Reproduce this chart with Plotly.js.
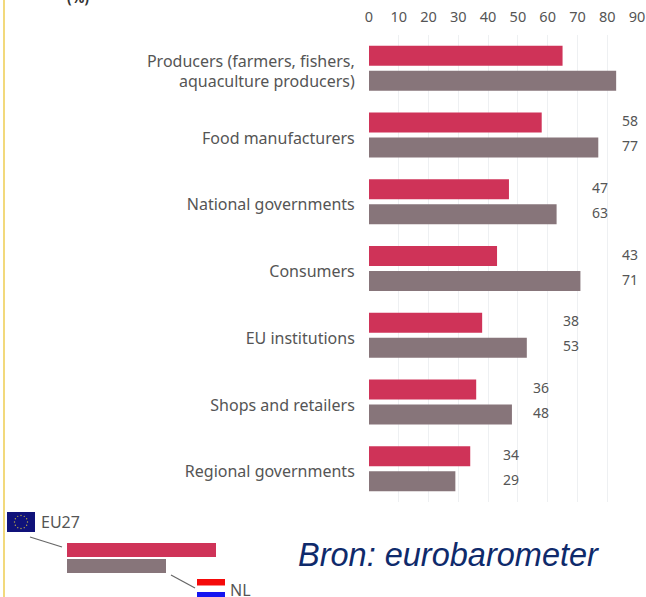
<!DOCTYPE html>
<html><head><meta charset="utf-8">
<script src="https://cdn.plot.ly/plotly-3.0.1.min.js"></script>
<style>html,body{margin:0;padding:0;background:#fff;overflow:hidden}</style>
</head><body><div id="chart" style="width:646px;height:597px"></div>
<script>
const categories = ["Producers (farmers, fishers,<br>aquaculture producers)","Food manufacturers","National governments","Consumers","EU institutions","Shops and retailers","Regional governments"];
const eu27 = [65,58,47,43,38,36,34];
const nl = [83,77,63,71,53,48,29];
const xTicks = [0,10,20,30,40,50,60,70,80,90];
const W=646,H=597;
const M={l:369,r:9,t:35,b:95};
const PW=W-M.l-M.r, PH=H-M.t-M.b;
const FONT='"Noto Sans", sans-serif';
const TXT='#555';
const RED='#cf3358', GREY='#87757a';
const px=v=>(v-M.l)/PW, py=v=>1-(v-M.t)/PH;
const rect=(x0,y0,x1,y1,c)=>({type:'rect',xref:'paper',yref:'paper',x0:px(x0),x1:px(x1),y0:py(y0),y1:py(y1),fillcolor:c,line:{width:0},layer:'above'});
const seg=(x0,y0,x1,y1,c,w)=>({type:'line',xref:'paper',yref:'paper',x0:px(x0),x1:px(x1),y0:py(y0),y1:py(y1),line:{color:c,width:w},layer:'above'});
const shapes=[
 rect(3,0,5,597,'#f2d97c'),
 rect(67,543,216,557,RED),
 rect(67,559,166,573,GREY),
 seg(30,537,62,547,'#666',1.2),
 seg(171,575,195,588,'#666',1.2),
 rect(7,512,35,532,'#10127a'),
 rect(197,579,225,585.5,'#f50a0a'),
 rect(197,592,225,597,'#1414f0')
];
for(let i=0;i<12;i++){
  const a=i*Math.PI/6, cx=21+6.5*Math.cos(a), cy=522+6.5*Math.sin(a), r=0.7;
  shapes.push({type:'circle',xref:'paper',yref:'paper',x0:px(cx-r),x1:px(cx+r),y0:py(cy+r),y1:py(cy-r),fillcolor:'#b9a94a',line:{width:0},layer:'above'});
}
const labelX=(a,b)=>Math.ceil(Math.max(a,b)/10)*10+7.7;
const annotations=[];
categories.forEach((c,i)=>{
  const x=labelX(eu27[i],nl[i]);
  if(x>90) return;
  annotations.push({x,y:c,xref:'x',yref:'y',text:String(eu27[i]),showarrow:false,yshift:14.5,font:{family:FONT,size:14,color:TXT}});
  annotations.push({x,y:c,xref:'x',yref:'y',text:String(nl[i]),showarrow:false,yshift:-10.5,font:{family:FONT,size:14,color:TXT}});
});
const note=(x,y,text,anchor,font)=>({x:px(x),y:py(y),xref:'paper',yref:'paper',text,showarrow:false,xanchor:anchor,yanchor:'middle',font});
annotations.push(note(39,522,'EU27','left',{family:FONT,size:16,color:TXT}));
annotations.push(note(228,590,'NL','left',{family:FONT,size:16,color:TXT}));
annotations.push(note(296,555,'<i>Bron: eurobarometer</i>','left',{family:'"Liberation Sans", Arial, sans-serif',size:32.5,color:'#0f2a6b'}));
annotations.push(note(78,-3,'<b>(%)</b>','center',{family:FONT,size:14,color:'#333'}));
const data=[
 {type:'bar',orientation:'h',name:'EU27',y:categories,x:eu27,marker:{color:RED},hoverinfo:'x+y'},
 {type:'bar',orientation:'h',name:'NL',y:categories,x:nl,marker:{color:GREY},hoverinfo:'x+y'}
];
const layout={
 width:W,height:H,paper_bgcolor:'#fff',plot_bgcolor:'#fff',showlegend:false,
 margin:{l:M.l,r:M.r,t:M.t,b:M.b,pad:0},
 barmode:'group',bargap:0.25,bargroupgap:0.2,
 font:{family:FONT,color:TXT},
 xaxis:{side:'top',range:[0,90],tickvals:xTicks,ticktext:xTicks.map(String),tickfont:{family:FONT,size:14.5,color:TXT},
   showgrid:true,gridcolor:'#eef0f2',gridwidth:1,zeroline:false,showline:false,ticks:'outside',ticklen:6,tickcolor:'rgba(0,0,0,0)'},
 yaxis:{autorange:'reversed',type:'category',tickfont:{family:FONT,size:16,color:TXT},ticklabelshift:-3,showgrid:false,zeroline:false,showline:false,ticks:'outside',ticklen:10,tickcolor:'rgba(0,0,0,0)'},
 shapes,annotations
};
Plotly.newPlot('chart',data,layout,{displayModeBar:false,staticPlot:true});
</script></body></html>
